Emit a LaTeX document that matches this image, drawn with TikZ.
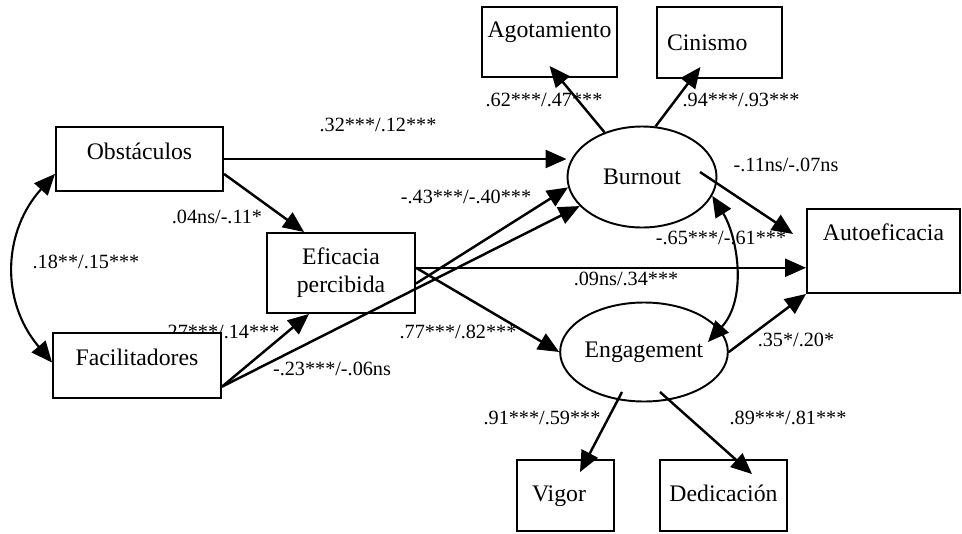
\documentclass[tikz,border=0pt]{standalone}
\usepackage{fontspec}
\setmainfont{Liberation Serif}
\usetikzlibrary{arrows.meta}
\usetikzlibrary{calc}
\usetikzlibrary{shapes.geometric}

\begin{document}
\begin{tikzpicture}[x=0.2mm,y=-0.2mm,
  caja/.style={draw,line width=1.1pt,inner sep=0pt,font=\fontsize{13.5}{16}\selectfont},
  elipse/.style={caja,ellipse},
  coef/.style={inner sep=0pt,font=\fontsize{11.5}{13}\selectfont},
  punta/.tip={Triangle[length=4.2mm,width=3.6mm]},
  flecha/.style={line width=1.4pt,-punta},
  flechas/.style={line width=1.2pt,punta-punta}]
\useasboundingbox (0,0) rectangle (962,533);

\node[caja,minimum width=3.34cm,minimum height=1.28cm,text height=0.4cm,text depth=0.4cm] (obs) at (139.5,159) {Obstáculos};
\node[coef,anchor=base] (l27) at (221,338) {.27***/.14***};
\node[caja,fill=white,minimum width=3.36cm,minimum height=1.3cm,text height=0.4cm,text depth=0.4cm] (fac) at (137,365.5) {Facilitadores};
\node[caja,align=center,minimum width=2.96cm,minimum height=1.6cm] (efi) at (341,273) {Eficacia\\percibida};
\node[elipse,minimum width=2.98cm,minimum height=2.02cm] (bur) at (642,177) {Burnout};
\node[elipse,minimum width=3.32cm,minimum height=1.98cm] (eng) at (644,352) {Engagement};
\node[caja,minimum width=3.06cm,minimum height=1.68cm,text height=0.35cm,text depth=0.79cm] (aut) at (883.5,251) {Autoeficacia};
\node[caja,minimum width=2.7cm,minimum height=1.4cm,text height=0.35cm,text depth=0.55cm] (ago) at (549.5,42) {Agotamiento};
\node[caja,minimum width=2.5cm,minimum height=1.42cm,text height=0.4cm,text depth=0.1cm,inner xsep=0.2cm,text width=2.1cm,align=left] (cin) at (719.5,42.5) {Cinismo};
\node[caja,minimum width=1.94cm,minimum height=1.42cm,text height=0.34cm,text depth=0.1cm,inner xsep=0.3cm,text width=1.34cm,align=left] (vig) at (565.5,495.5) {Vigor};
\node[caja,minimum width=2.54cm,minimum height=1.42cm,text height=0.34cm,text depth=0.1cm] (ded) at (723.5,495.5) {Dedicación};

\node[coef] (l32) at (378,125) {.32***/.12***};
\node[coef] (l04) at (217,217) {.04ns/-.11*};
\node[coef] (l18) at (86,262) {.18**/.15***};
\node[coef] (l43) at (466,197) {-.43***/-.40***};
\node[coef] (l23) at (332,369) {-.23***/-.06ns};
\node[coef] (l77) at (458,332) {.77***/.82***};
\node[coef] (l09) at (626,279) {.09ns/.34***};
\node[coef] (l11) at (786,165) {-.11ns/-.07ns};
\node[coef] (l65) at (721,238) {-.65***/-.61***};
\node[coef] (l35) at (796,340) {.35*/.20*};
\node[coef] (l62) at (544,100) {.62***/.47***};
\node[coef] (l94) at (741,100) {.94***/.93***};
\node[coef] (l91) at (542,418) {.91***/.59***};
\node[coef] (l89) at (788,418) {.89***/.81***};

\draw[flecha] (obs.east) -- (obs.east -| bur.west);
\draw[flecha] (obs.-10) -- (efi.132);
\draw[flecha] (fac.-14) -- (efi.232);
\draw[flecha] (fac.-14) -- (bur.205);
\draw[flecha] (efi.-8) -- (bur.188);
\draw[flecha] (efi.4) -- (efi.4 -| aut.west);
\draw[flecha] (efi.4) -- (eng.west);
\draw[flecha] (bur.130) -- ($(ago.south)+(0,-12)$);
\draw[flecha] (bur.75) -- ($(cin.south)+(-19,-12)$);
\draw[flecha] ($(bur.center)+(58,-5)$) -- ($(aut.west)+(-13,-17)$);
\draw[flecha] (eng.east) -- (aut.south west);
\draw[flecha] ($(eng.center)+(-22,40)$) -- ($(vig.north)+(14.5,13)$);
\draw[flecha] ($(eng.center)+(16,40)$) -- ($(ded.north)+(28.5,15)$);
\draw[flechas] (bur.-15) .. controls +(25,40) and +(40,-44) .. ($(eng.center)+(64,-10)$);
\draw[flechas] (obs.190) .. controls +(-51,56) and +(-53,-63) .. (fac.178);

\end{tikzpicture}
\end{document}
